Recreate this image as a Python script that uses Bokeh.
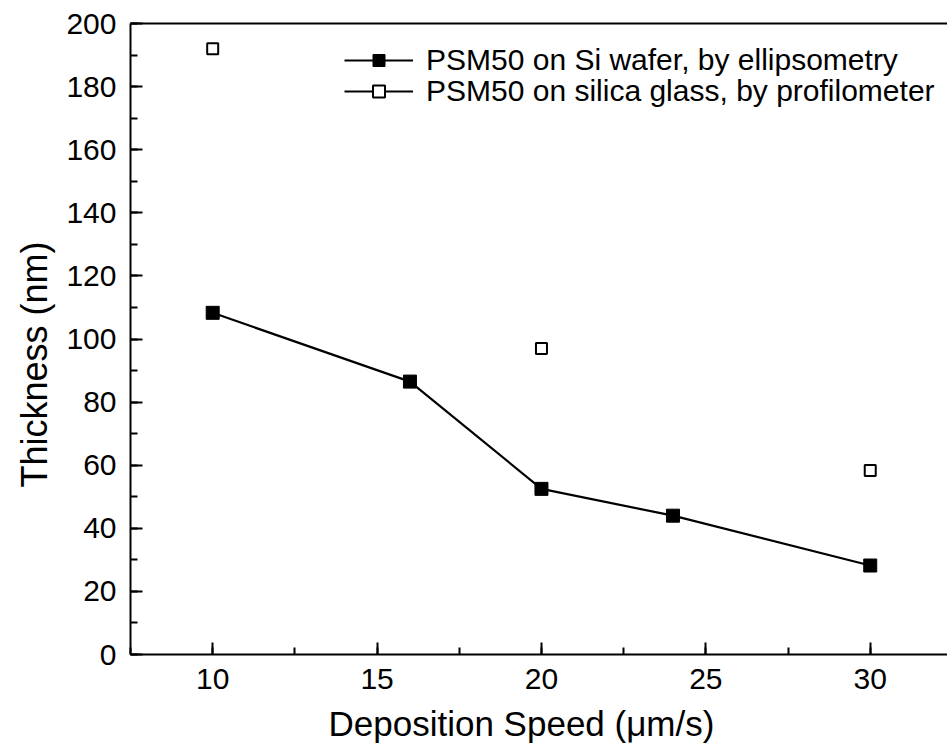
from bokeh.plotting import figure
from bokeh.models import (ColumnDataSource, Range1d, SingleIntervalTicker, LinearAxis,
                          Legend, LegendItem, Title)
from bokeh.embed import file_html
from bokeh.resources import INLINE

# Data
speed_si = [10, 16, 20, 24, 30]
thick_si = [108.3, 86.5, 52.5, 44.0, 28.2]
speed_glass = [10, 20, 30]
thick_glass = [192.0, 97.0, 58.3]
label_si = "PSM50 on Si wafer, by ellipsometry"
label_glass = "PSM50 on silica glass, by profilometer"
x_title = "Deposition Speed (\u03bcm/s)"
y_title = "Thickness (nm)"

FONT = "Liberation Sans"

p = figure(width=947, height=755, output_backend="svg", toolbar_location=None,
           x_range=Range1d(7.5, 32.35), y_range=Range1d(0, 200),
           min_border_left=130, min_border_right=0, min_border_top=23,
           min_border_bottom=101)
p.outline_line_color = None
p.xgrid.visible = False
p.ygrid.visible = False
p.background_fill_color = "white"
p.border_fill_color = "white"

src_si = ColumnDataSource(dict(x=speed_si, y=thick_si))
src_gl = ColumnDataSource(dict(x=speed_glass, y=thick_glass))
src_nan = ColumnDataSource(dict(x=[float("nan")], y=[float("nan")]))

l1 = p.line("x", "y", source=src_si, line_color="black", line_width=2.2)
s1 = p.scatter("x", "y", source=src_si, marker="square", size=13,
               fill_color="black", line_color="black", line_width=1)
l2 = p.line("x", "y", source=src_nan, line_color="black", line_width=2.2)
s2 = p.scatter("x", "y", source=src_gl, marker="square", size=11,
               fill_color="white", line_color="black", line_width=2)

for ax in (p.xaxis[0], p.yaxis[0]):
    ax.axis_line_width = 2
    ax.axis_line_color = "black"
    ax.major_tick_line_width = 2
    ax.minor_tick_line_width = 2
    ax.major_tick_in = 12
    ax.major_tick_out = 0
    ax.minor_tick_in = 7
    ax.minor_tick_out = 0
    ax.major_label_text_font = FONT
    ax.major_label_text_font_size = "30px"
    ax.major_label_text_color = "black"

p.xaxis[0].ticker = SingleIntervalTicker(interval=5, num_minor_ticks=2)
p.yaxis[0].ticker = SingleIntervalTicker(interval=20, num_minor_ticks=2)
p.xaxis[0].major_label_standoff = 14
p.yaxis[0].major_label_standoff = 14

top = LinearAxis(ticker=SingleIntervalTicker(interval=1000), axis_line_width=2,
                 major_tick_in=0, major_tick_out=0, minor_tick_in=0, minor_tick_out=0,
                 major_label_text_font_size="0px")
p.add_layout(top, "above")

tx = Title(text=x_title, align="left", offset=198, text_font=FONT,
           text_font_size="35px", text_font_style="normal", text_color="black",
           standoff=20, vertical_align="bottom")
p.add_layout(tx, "below")
ty = Title(text=y_title, align="left", offset=167, text_font=FONT,
           text_font_size="36px", text_font_style="normal", text_color="black",
           standoff=17, vertical_align="bottom")
p.add_layout(ty, "left")

common = dict(border_line_color=None, background_fill_alpha=0, label_text_font=FONT,
              label_text_font_size="30px", label_text_color="black",
              glyph_width=69, glyph_height=30,
              spacing=0, label_standoff=13, padding=0, margin=0)
leg1 = Legend(items=[LegendItem(label=label_si, renderers=[l1, s1])],
              location=(214, 577), **common)
leg2 = Legend(items=[LegendItem(label=label_glass, renderers=[l2, s2])],
              location=(214, 546), **common)
p.add_layout(leg1)
p.add_layout(leg2)

open("out.html", "w").write(file_html(p, INLINE))
